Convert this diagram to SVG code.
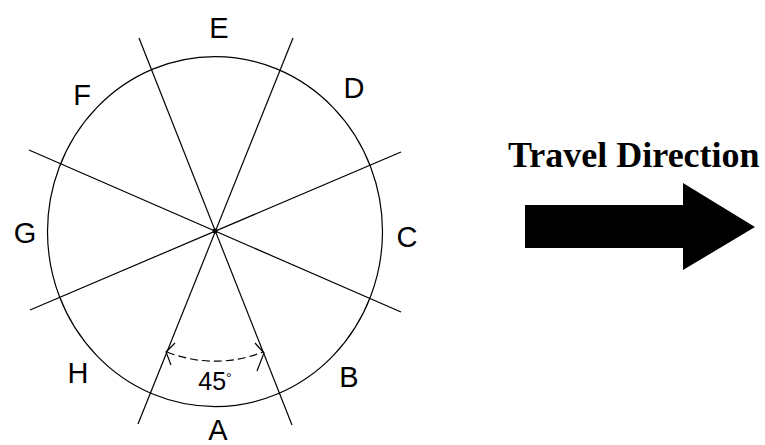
<svg xmlns="http://www.w3.org/2000/svg" width="765" height="445" viewBox="0 0 765 445">
<style>
.ln{stroke:#000;stroke-width:1.2;fill:none}
.lbl{font-family:"Liberation Sans",Arial,sans-serif;font-size:29px;fill:#000;text-anchor:middle}
.ttl{font-family:"Liberation Serif","Times New Roman",serif;font-size:36px;font-weight:bold;fill:#000}
</style>
<rect width="765" height="445" fill="#fff"/>
<g id="circle">
<ellipse class="ln" cx="215" cy="231.6" rx="167.5" ry="175"/>
</g>
<g id="connectors">
<line class="ln" x1="139" y1="38" x2="292" y2="425"/>
<line class="ln" x1="293" y1="38" x2="138" y2="424"/>
<line class="ln" x1="29" y1="150" x2="401" y2="312"/>
<line class="ln" x1="401" y1="152" x2="30" y2="310"/>
<circle cx="215" cy="231" r="2.5" fill="#000"/>
</g>
<g id="angle">
<path class="ln" d="M167,352 A130,130 0 0 0 263,352" stroke-dasharray="8,4"/>
<polyline class="ln" points="175,343 166,352 171,365"/>
<polyline class="ln" points="255,343 264,353 257,371"/>
<text class="lbl" x="215" y="390" style="font-size:25px">45<tspan dy="-7" style="font-size:14px">°</tspan></text>
</g>
<g id="labels">
<text class="lbl" x="219" y="38">E</text>
<text class="lbl" x="354" y="98">D</text>
<text class="lbl" x="82" y="105">F</text>
<text class="lbl" x="25" y="243">G</text>
<text class="lbl" x="407" y="247">C</text>
<text class="lbl" x="78" y="383">H</text>
<text class="lbl" x="349" y="387">B</text>
<text class="lbl" x="218" y="440">A</text>
</g>
<g id="travel">
<text class="ttl" x="508" y="167">Travel Direction</text>
<polygon points="525,205 683,205 683,183 755,227 683,270 683,248 525,248" fill="#000"/>
</g>
</svg>
